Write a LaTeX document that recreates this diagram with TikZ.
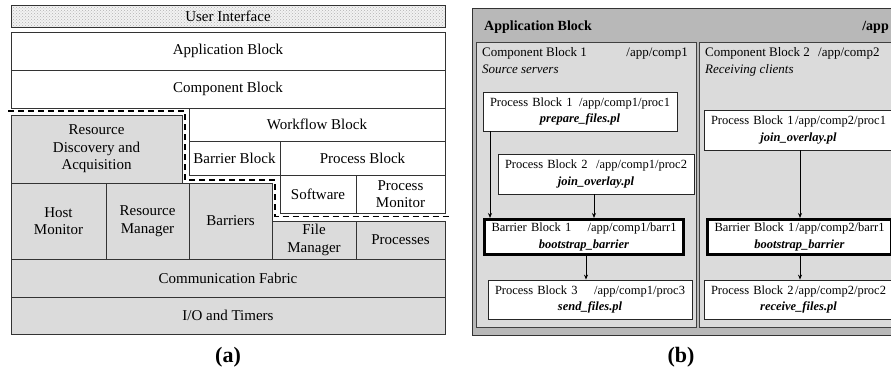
\documentclass[tikz,border=0pt]{standalone}
\usepackage{fontspec}
\setmainfont{Liberation Serif}
\usetikzlibrary{arrows.meta,patterns}

\begin{document}
\begin{tikzpicture}[x=1pt,y=-1pt,
    layer/.style={draw=black!80,line width=0.8pt,inner sep=0pt,align=center,
      font=\fontsize{15}{17.5}\selectfont},
    grey/.style={layer,fill=black!14},
    comp/.style={draw=black!75,line width=0.8pt,fill=black!14,inner sep=0pt,anchor=north west},
    hdr/.style={inner sep=0pt,font=\fontsize{13}{15}\selectfont},
    proc/.style={draw=black!85,line width=0.8pt,fill=white,inner xsep=7pt,inner ysep=0pt,
      align=center,font=\fontsize{12.5}{16.5}\selectfont},
    barr/.style={proc,line width=3pt,draw=black},
    flow/.style={-{Stealth[length=5pt,width=4pt]},line width=1pt},
    subcap/.style={font=\fontsize{22}{24}\selectfont\bfseries}]

    \useasboundingbox (0,0) rectangle (891,381);
    \clip (0,0) rectangle (891,381);

    \newcommand\blk{}
    \def\blk#1#2#3{\makebox[\linewidth]{#1\hfill#2}\\\textbf{\textit{#3}}}

    % (a) layers
    \node[layer,minimum width=434,minimum height=22,preaction={fill=black!5},
      pattern=crosshatch dots,pattern color=black!30] (ui) at (228,16) {User Interface};
    \node[layer,minimum width=434,minimum height=38] (appl) at (228,51) {Application Block};
    \node[layer,minimum width=434,minimum height=38] (compl) at (228,89) {Component Block};
    \node[grey,minimum width=171,minimum height=68] (rda) at (96.5,149) {Resource\\Discovery and\\Acquisition};
    \node[layer,minimum width=256,minimum height=33] (wfl) at (317,124.5) {Workflow Block};
    \node[layer,minimum width=91,minimum height=34] (bbl) at (234.5,158) {Barrier Block};
    \node[layer,minimum width=165,minimum height=34] (pbl) at (362.5,158) {Process Block};
    \node[layer,minimum width=76,minimum height=38] (sw) at (318,194) {Software};
    \node[layer,minimum width=89,minimum height=38] (pmon) at (400.5,194) {Process\\Monitor};
    \node[grey,minimum width=95,minimum height=76] (hmon) at (58.5,221) {Host\\Monitor};
    \node[grey,minimum width=83,minimum height=76] (rmgr) at (147.5,221) {Resource\\Manager};
    \node[grey,minimum width=83,minimum height=76] (bars) at (230.5,221) {Barriers};
    \node[grey,minimum width=84,minimum height=38] (fmgr) at (314,240) {File\\Manager};
    \node[grey,minimum width=89,minimum height=38] (procs) at (400.5,240) {Processes};
    \node[grey,minimum width=434,minimum height=38] (cf) at (228,278) {Communication Fabric};
    \node[grey,minimum width=434,minimum height=37] (io) at (228,315.5) {I/O and Timers};

    \draw[line width=1.3pt,dash pattern=on 6pt off 4pt]
      (8,111) -- (185,111) -- (185,180) -- (275,180) -- (275,216.5) -- (452,216.5);

    \node[subcap] (capa) at (228,357) {(a)};

    % (b) application
    \node[draw=black!80,line width=0.8pt,fill=black!28,minimum width=430,minimum height=327,
      inner sep=0pt,anchor=north west] (app) at (472,8) {};
    \node[inner sep=0pt,anchor=base west,font=\fontsize{14}{16}\selectfont\bfseries] (apptitle) at (484,30) {Application Block};
    \node[inner sep=0pt,anchor=base east,font=\fontsize{14}{16}\selectfont\bfseries] (apppath) at (889,30) {/app};

    \node[comp,minimum width=220,minimum height=285] (comp1) at (476,42) {};
    \node[comp,minimum width=199,minimum height=285] (comp2) at (699,42) {};

    \node[hdr,anchor=base west] (c1name) at (482,56) {Component Block 1};
    \node[hdr,anchor=base east] (c1path) at (688,56) {/app/comp1};
    \node[hdr,anchor=base west] (c1note) at (482,73) {\itshape Source servers};
    \node[hdr,anchor=base west] (c2name) at (705,56) {Component Block 2};
    \node[hdr,anchor=base west] (c2path) at (818,56) {/app/comp2};
    \node[hdr,anchor=base west] (c2note) at (705,73) {\itshape Receiving clients};

    \node[proc,text width=180,minimum height=39] (c1p1) at (580,111.5)
      {\blk{Process Block 1}{/app/comp1/proc1}{prepare\_files.pl}};
    \node[proc,text width=182,minimum height=40] (c1p2) at (596,174)
      {\blk{Process Block 2}{/app/comp1/proc2}{join\_overlay.pl}};
    \node[barr,text width=185,minimum height=35] (c1b1) at (584,237)
      {\blk{Barrier Block 1}{/app/comp1/barr1}{bootstrap\_barrier}};
    \node[proc,text width=190,minimum height=39] (c1p3) at (590,299.5)
      {\blk{Process Block 3}{/app/comp1/proc3}{send\_files.pl}};

    \node[proc,text width=175,minimum height=40] (c2p1) at (798.5,130)
      {\blk{Process Block 1}{/app/comp2/proc1}{join\_overlay.pl}};
    \node[barr,text width=170,minimum height=35] (c2b1) at (799.5,237)
      {\blk{Barrier Block 1}{/app/comp2/barr1}{bootstrap\_barrier}};
    \node[proc,text width=175,minimum height=39] (c2p2) at (798.5,299.5)
      {\blk{Process Block 2}{/app/comp2/proc2}{receive\_files.pl}};

    \coordinate (c1x1) at (490,0);
    \coordinate (c1x2) at (594,0);
    \coordinate (c1x3) at (586,0);
    \coordinate (c2x1) at (800,0);

    \draw[flow] (c1p1.south -| c1x1) -- (c1b1.north -| c1x1);
    \draw[flow] (c1p2.south -| c1x2) -- (c1b1.north -| c1x2);
    \draw[flow] (c1b1.south -| c1x3) -- (c1p3.north -| c1x3);
    \draw[flow] (c2p1.south -| c2x1) -- (c2b1.north -| c2x1);
    \draw[flow] (c2b1.south -| c2x1) -- (c2p2.north -| c2x1);

    \node[subcap] (capb) at (681,357) {(b)};

  \end{tikzpicture}
\end{document}
